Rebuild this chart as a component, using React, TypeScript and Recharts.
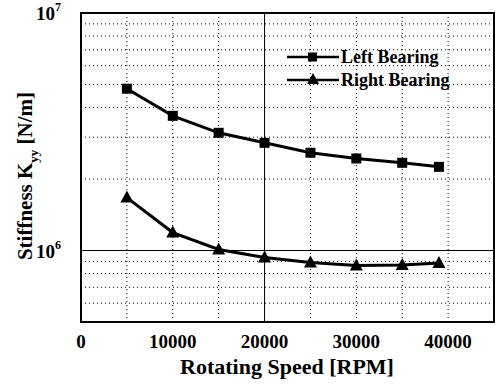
import {
  LineChart,
  Line,
  XAxis,
  YAxis,
  ReferenceLine,
  ReferenceArea,
} from "recharts";

const speeds = [5000, 10000, 15000, 20000, 25000, 30000, 35000, 39000];
const leftBearing = [4.8e6, 3.69e6, 3.13e6, 2.84e6, 2.58e6, 2.44e6, 2.34e6, 2.25e6];
const rightBearing = [1.67e6, 1.19e6, 1.01e6, 0.935e6, 0.89e6, 0.865e6, 0.868e6, 0.885e6];

const xTicks = [0, 10000, 20000, 30000, 40000];
const yTicks = [1e6, 1e7];
const xGridDotted = [5000, 10000, 15000, 25000, 30000, 35000, 40000];
const xGridSolid = [20000];
const yGridDotted = [6e5, 7e5, 8e5, 9e5, 2e6, 3e6, 4e6, 5e6, 6e6, 7e6, 8e6, 9e6];
const yGridSolid = [1e6];

const data = speeds.map((s, i) => ({
  speed: s,
  left: leftBearing[i],
  right: rightBearing[i],
}));

const FONT = "Liberation Serif, DejaVu Serif, Times New Roman, Times, serif";
const txt = { fontFamily: FONT, fontWeight: 700 as const, fill: "#000" };

function YTick(props: any) {
  const { x, y, payload } = props;
  const exp = Math.round(Math.log10(payload.value));
  return (
    <text x={x - 12} y={y + 7} textAnchor="end" style={{ ...txt, fontSize: 19 }}>
      10
      <tspan dy={-9} style={{ fontSize: 12 }}>{exp}</tspan>
    </text>
  );
}

function XTick(props: any) {
  const { x, y, payload } = props;
  return (
    <text x={x} y={y + 18} textAnchor="middle" style={{ ...txt, fontSize: 19 }}>
      {payload.value}
    </text>
  );
}

function Square(props: any) {
  const { cx, cy } = props;
  if (cx == null || cy == null) return null;
  return <rect x={cx - 5} y={cy - 5} width={10} height={10} fill="#000" />;
}

function Triangle(props: any) {
  const { cx, cy } = props;
  if (cx == null || cy == null) return null;
  return <polygon points={`${cx},${cy - 7} ${cx - 6.5},${cy + 5} ${cx + 6.5},${cy + 5}`} fill="#000" />;
}

function LegendBox() {
  const rows = [
    { label: "Left Bearing", marker: "square" },
    { label: "Right Bearing", marker: "triangle" },
  ];
  return (
    <div style={{ fontFamily: FONT, fontWeight: 700, fontSize: 18, lineHeight: 1 }}>
      {rows.map((r) => (
        <div key={r.label} style={{ display: "flex", alignItems: "center", height: 23 }}>
          <svg width={54} height={16}>
            <line x1={0} y1={8} x2={52} y2={8} stroke="#000" strokeWidth={2.5} />
            {r.marker === "square" ? (
              <rect x={21} y={3.5} width={9} height={9} fill="#000" />
            ) : (
              <polygon points="26,1 20,12 32,12" fill="#000" />
            )}
          </svg>
          <span>{r.label}</span>
        </div>
      ))}
    </div>
  );
}

export default function App() {
  return (
    <div style={{ position: "absolute", left: 0, top: 0, width: 495, height: 385, background: "#fff" }}>
      <LineChart
        width={495}
        height={385}
        data={data}
        margin={{ top: 13, right: 1, left: 41, bottom: 33 }}
      >
        {xGridDotted.map((v) => (
          <ReferenceLine key={"xd" + v} x={v} stroke="#000" strokeWidth={1} strokeDasharray="1 3" />
        ))}
        {xGridSolid.map((v) => (
          <ReferenceLine key={"xs" + v} x={v} stroke="#000" strokeWidth={1} />
        ))}
        {yGridDotted.map((v) => (
          <ReferenceLine key={"yd" + v} y={v} stroke="#000" strokeWidth={1} strokeDasharray="1 3" />
        ))}
        {yGridSolid.map((v) => (
          <ReferenceLine key={"ys" + v} y={v} stroke="#000" strokeWidth={1} />
        ))}
        <ReferenceArea x1={0} x2={45000} y1={5e5} y2={1e7} fill="none" stroke="#000" strokeWidth={2} />
        <XAxis
          dataKey="speed"
          type="number"
          domain={[0, 45000]}
          ticks={xTicks}
          tick={<XTick />}
          tickLine={false}
          axisLine={false}
          height={30}
          label={() => (
            <text x={287} y={374} textAnchor="middle" style={{ ...txt, fontSize: 22 }}>
              Rotating Speed [RPM]
            </text>
          )}
        />
        <YAxis
          type="number"
          scale="log"
          domain={[5e5, 1e7]}
          allowDataOverflow
          ticks={yTicks}
          tick={<YTick />}
          tickLine={false}
          axisLine={false}
          width={40}
          label={() => {
            const cx = 32;
            const cy = 176;
            return (
              <text
                x={cx}
                y={cy}
                transform={`rotate(-90 ${cx} ${cy})`}
                textAnchor="middle"
                style={{ ...txt, fontSize: 21 }}
              >
                Stiffness K
                <tspan dy={6} style={{ fontSize: 13 }}>yy</tspan>
                <tspan dy={-6}> [N/m]</tspan>
              </text>
            );
          }}
        />
        <Line
          dataKey="left"
          name="Left Bearing"
          stroke="#000"
          strokeWidth={3}
          dot={<Square />}
          activeDot={false}
          isAnimationActive={false}
        />
        <Line
          dataKey="right"
          name="Right Bearing"
          stroke="#000"
          strokeWidth={3}
          dot={<Triangle />}
          activeDot={false}
          isAnimationActive={false}
        />
      </LineChart>
      <div style={{ position: "absolute", left: 287, top: 45 }}>
        <LegendBox />
      </div>
    </div>
  );
}
